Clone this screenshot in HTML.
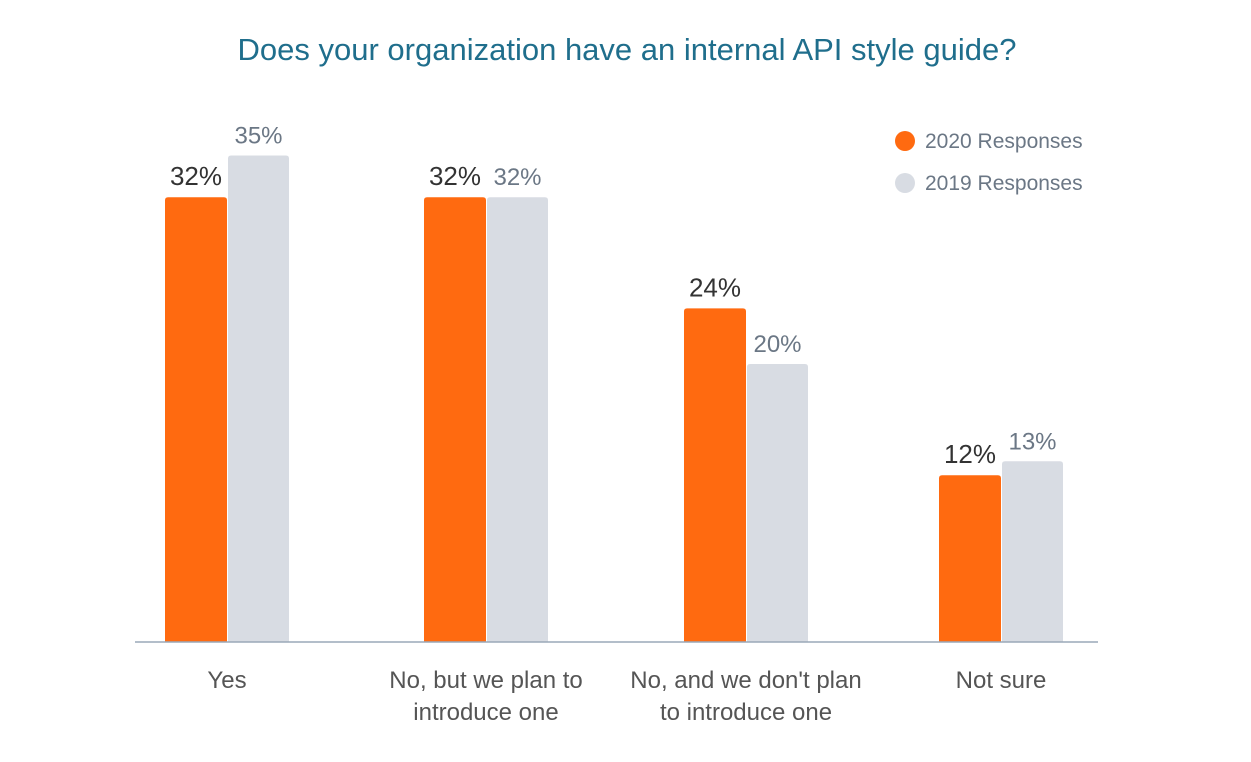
<!DOCTYPE html>
<html><head><meta charset="utf-8"><style>
body{margin:0;background:#fff;font-family:"Liberation Sans","DejaVu Sans",sans-serif;}
svg text{font-family:"Liberation Sans","DejaVu Sans",sans-serif;}
</style></head><body>
<svg id="chart" width="1251" height="757" viewBox="0 0 1251 757">
<text x="627" y="60" text-anchor="middle" font-size="31" fill="#1f6e8c">Does your organization have an internal API style guide?</text>
<g>
<circle cx="905" cy="141" r="10" fill="#ff6a10"/>
<text x="925" y="148" font-size="21" fill="#6b7785">2020 Responses</text>
<circle cx="905" cy="183" r="10" fill="#d8dce3"/>
<text x="925" y="190" font-size="21" fill="#6b7785">2019 Responses</text>
</g>
<g id="bars"></g>
<line x1="135" y1="642" x2="1098" y2="642" stroke="#9aa8b8" stroke-width="1.5"/>
</svg>
<script>
const categories=[["Yes"],["No, but we plan to","introduce one"],["No, and we don't plan","to introduce one"],["Not sure"]];
const values2020=[32,32,24,12];
const values2019=[35,32,20,13];
const groupLeft=[165,424,684,939];
const baseY=642, pxPer=13.9, barW=62;
const g=document.getElementById('bars');
const NS='http://www.w3.org/2000/svg';
function y(v){return baseY-v*pxPer;}
function mk(tag,attrs){const e=document.createElementNS(NS,tag);for(const k in attrs)e.setAttribute(k,attrs[k]);g.appendChild(e);return e;}
categories.forEach((c,i)=>{
  const x0=groupLeft[i];
  const b1=mk('path',{d:`M${x0},${baseY}V${y(values2020[i])+3}q0,-3 3,-3h${barW-6}q3,0 3,3V${baseY}Z`,fill:'#ff6a10'});
  
  
  const x1=x0+barW+1;
  const b2=mk('path',{d:`M${x1},${baseY}V${y(values2019[i])+3}q0,-3 3,-3h${barW-7}q3,0 3,3V${baseY}Z`,fill:'#d8dce3'});
  
  
  const t1=mk('text',{x:x0+barW/2,y:y(values2020[i])-12,'text-anchor':'middle','font-size':26,fill:'#333'});
  t1.textContent=values2020[i]+'%';
  
  
  const t2=mk('text',{x:x1+(barW-1)/2,y:y(values2019[i])-12,'text-anchor':'middle','font-size':24,fill:'#6b7785'});
  t2.textContent=values2019[i]+'%';
  
  
  c.forEach((line,j)=>{
    const t=mk('text',{x:x0+barW,y:688+j*32,'text-anchor':'middle','font-size':24,fill:'#555'});
    t.textContent=line;
    
    
  });
});
</script>
</body></html>
